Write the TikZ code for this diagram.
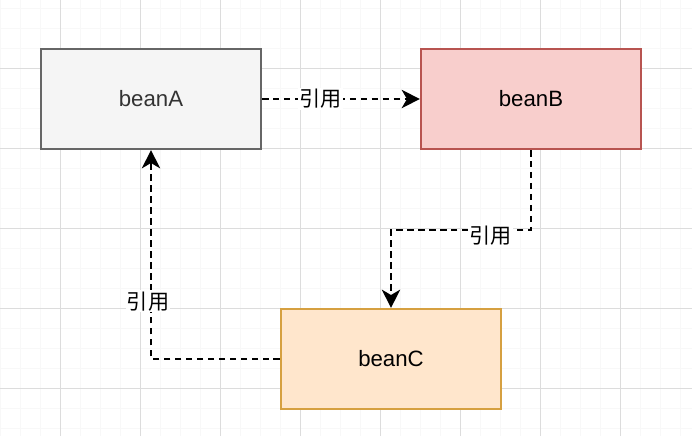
\documentclass[tikz,border=0pt]{standalone}
\usepackage{fontspec}
\setmainfont{Liberation Sans}
\newfontfamily\cjk{Noto Sans CJK SC}
\usetikzlibrary{positioning,arrows.meta}

\definecolor{gridmajor}{HTML}{DCDCDC}
\definecolor{gridminor}{HTML}{F8F8F8}
\definecolor{afill}{HTML}{F5F5F5}
\definecolor{aline}{HTML}{666666}
\definecolor{atext}{HTML}{333333}
\definecolor{bfill}{HTML}{F8CECC}
\definecolor{bline}{HTML}{B85450}
\definecolor{cfill}{HTML}{FFE6CC}
\definecolor{cline}{HTML}{D6A040}

\tikzset{
  bean/.style={draw, line width=1.5pt, minimum width=5.5cm, minimum height=2.5cm,
    font=\fontsize{15.8}{18}\selectfont},
  ref/.style={line width=1.5pt, dash pattern=on 4.6pt off 3.2pt,
    -{Stealth[length=13pt, width=13pt, inset=3.8pt]}},
  lbl/.style={fill=white, inner sep=1pt, font=\cjk\fontsize{15}{18}\selectfont}
}

\begin{document}
\begin{tikzpicture}
    \useasboundingbox (0,0) rectangle (17.3,10.9);
    % grid
    \foreach \x in {0,0.5,...,17.0} \draw[gridminor, line width=0.5pt] (\x,0) -- (\x,10.9);
    \foreach \y in {0.2,0.7,...,10.7} \draw[gridminor, line width=0.5pt] (0,\y) -- (17.3,\y);
    \foreach \x in {1.5,3.5,...,15.5} \draw[gridmajor, line width=0.7pt] (\x,0) -- (\x,10.9);
    \foreach \y in {1.2,3.2,...,9.2} \draw[gridmajor, line width=0.7pt] (0,\y) -- (17.3,\y);

    % beans
    \node[bean, draw=aline, fill=afill, text=atext] (beanA) at (3.775,8.425) {beanA};
    \node[bean, draw=bline, fill=bfill] (beanB) at (13.275,8.425) {beanB};
    \node[bean, draw=cline, fill=cfill] (beanC) at (9.775,1.925) {beanC};

    % references
    \draw[ref] (beanA) -- node[lbl, pos=0.37] (refAB) {引用} (beanB);
    \draw[ref] (beanB.south) -- ++(0,-2) -| node[lbl, pos=0.143, yshift=-0.15cm] (refBC) {引用} (beanC.north);
    \draw[ref] (beanC.west) -| node[lbl, pos=0.638, xshift=-0.075cm] (refCA) {引用} (beanA.south);
\end{tikzpicture}
\end{document}
